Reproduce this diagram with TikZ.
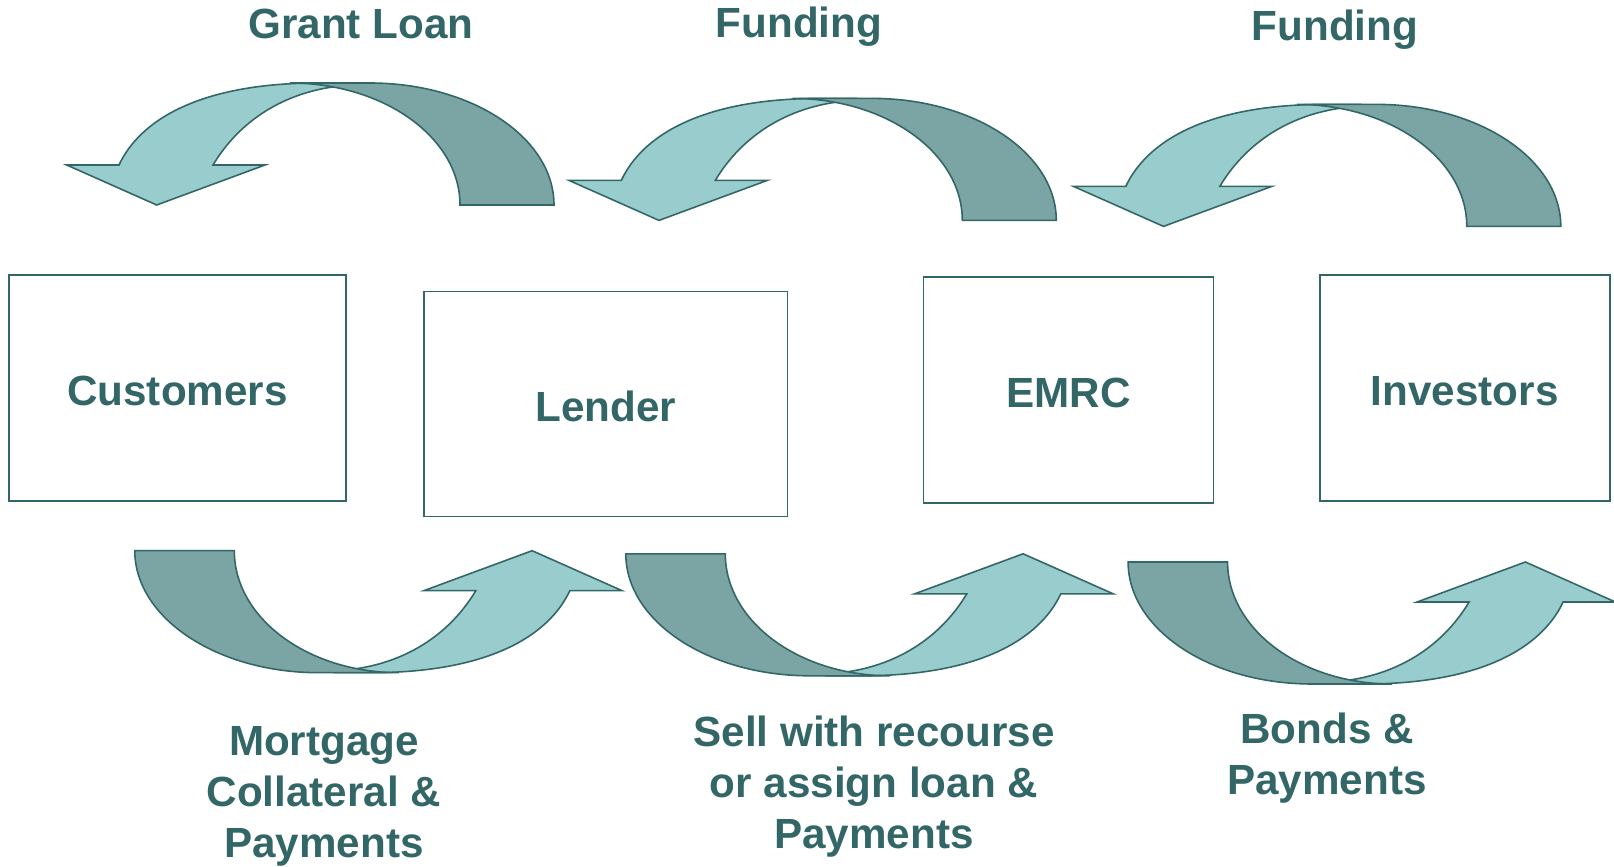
\documentclass[tikz,border=0pt]{standalone}
\usepackage{fontspec}
\setmainfont{Liberation Sans}
\usepackage{xcolor}
\definecolor{lightteal}{RGB}{153,204,204}
\definecolor{darkteal}{RGB}{122,165,164}
\definecolor{edge}{RGB}{51,102,102}
\tikzstyle{party}=[draw=edge, line width=0.5pt, inner sep=0pt, text=edge, text height=0.35cm, text depth=0pt, font=\fontsize{12pt}{14.5pt}\selectfont\bfseries]
\tikzset{flow/.style={text=edge, align=center, inner sep=0pt, font=\fontsize{12pt}{14.5pt}\selectfont\bfseries}}
\tikzset{headband/.style={fill=lightteal, draw=edge, line width=0.45pt}}
\tikzset{tailband/.style={fill=darkteal, draw=edge, line width=0.45pt}}
% one bent arrow, head on the left, tail on the right; #1 = inner edge of the tail
\newcommand{\bentarrow}[1][460]{%
  \draw[headband] (213,165) -- (265,165) -- (156.7,205) -- (66.7,165) -- (119,165)
    .. controls (140,120) and (200,83) .. (318,83) -- (350,83) -- (340,86)
    .. controls (285,92) and (240,120) .. (213,165) -- cycle;
  \pgfmathsetmacro\ctrl{290+0.5523*(#1-290)}
  \draw[tailband] (#1,205) -- (554,205) .. controls (554,137.6) and (471.6,83) .. (370,83)
    -- (290,83) .. controls (\ctrl,83) and (#1,137.6) .. (#1,205) -- cycle;
}

\begin{document}
\begin{tikzpicture}[x=0.01cm,y=-0.01cm]
  \useasboundingbox (0,0) rectangle (1614,867);

  %% Parties
  \draw (177.5,388) node[party,minimum width=3.37cm,minimum height=2.26cm] (cust) {Customers};
  \draw (605.8,404) node[party,minimum width=3.63cm,minimum height=2.25cm] (lend) {Lender};
  \draw (1068.5,390) node[party,minimum width=2.90cm,minimum height=2.26cm] (emrc) {EMRC};
  \draw (1464.8,388) node[party,minimum width=2.90cm,minimum height=2.26cm] (inv) {Investors};

  %% Upper arrows
  \bentarrow
  \begin{scope}[shift={(502.3,15.4)}] \bentarrow \end{scope}
  \begin{scope}[shift={(1006.8,21.4)}] \bentarrow \end{scope}

  %% Lower arrows
  \begin{scope}[shift={(688.8,755.7)},xscale=-1,yscale=-1] \bentarrow[454.5] \end{scope}
  \begin{scope}[shift={(1179.8,758.8)},xscale=-1,yscale=-1] \bentarrow[454.5] \end{scope}
  \begin{scope}[shift={(1682.1,767)},xscale=-1,yscale=-1] \bentarrow[454.5] \end{scope}

  %% Labels
  \draw (361,39) node[flow,anchor=base] (grant) {Grant Loan};
  \draw (799,38) node[flow,anchor=base] (fundlend) {Funding};
  \draw (1335,41) node[flow,anchor=base] (fundemrc) {Funding};
  \draw (324,796) node[flow] (mortgage) {Mortgage\\Collateral \&\\Payments};
  \draw (874,787) node[flow] (sell) {Sell with recourse\\or assign loan \&\\Payments};
  \draw (1327,758) node[flow] (bonds) {Bonds \&\\Payments};
\end{tikzpicture}
\end{document}
